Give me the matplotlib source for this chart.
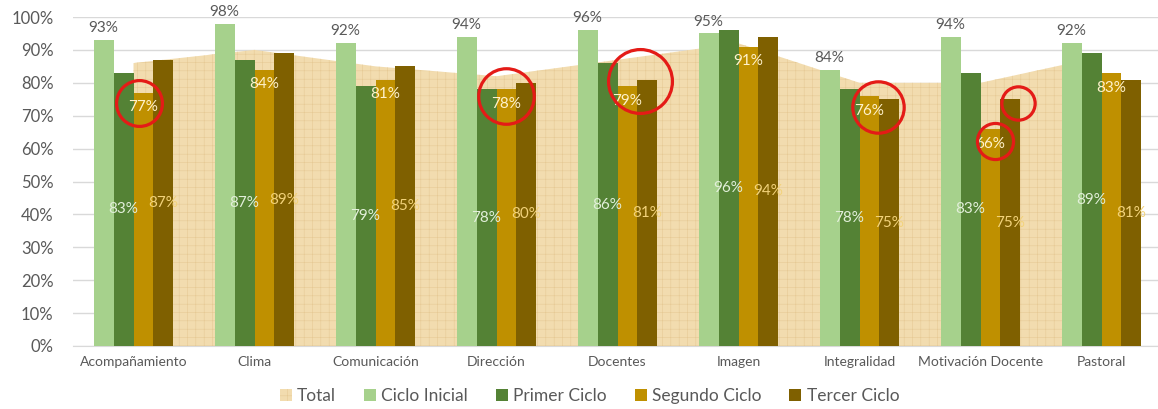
import numpy as np
import matplotlib.pyplot as plt
from matplotlib.patches import Patch

plt.rcParams['font.family'] = ['Lato', 'DejaVu Sans']
plt.rcParams['hatch.linewidth'] = 0.4

# Datos por dimensión
categorias = ['Acompañamiento', 'Clima', 'Comunicación', 'Dirección', 'Docentes',
              'Imagen', 'Integralidad', 'Motivación Docente', 'Pastoral']
total = [86, 90, 85, 82, 87, 92, 80, 80, 88]
ciclo_inicial = [93, 98, 92, 94, 96, 95, 84, 94, 92]
primer_ciclo = [83, 87, 79, 78, 86, 96, 78, 83, 89]
segundo_ciclo = [77, 84, 81, 78, 79, 91, 76, 66, 83]
tercer_ciclo = [87, 89, 85, 80, 81, 94, 75, 75, 81]

series = [('Ciclo Inicial', ciclo_inicial, '#A6D18C'),
          ('Primer Ciclo', primer_ciclo, '#548235'),
          ('Segundo Ciclo', segundo_ciclo, '#BF9000'),
          ('Tercer Ciclo', tercer_ciclo, '#7F6000')]

# Marcas rojas: (categoría, serie)
destacados = [(0, 2), (3, 2), (4, 2), (6, 2), (7, 2), (7, 3)]
desplaz = [(-0.04, -3), (0.0, -2), (0.1, 1.5), (0.07, -3.4), (0.04, -3.8), (0.06, -1.2)]
tamanos = [33, 40, 46, 37, 26, 24]

fig = plt.figure(figsize=(11.58, 4.09), dpi=100)
ax = fig.add_axes([73 / 1158, 63 / 409, 1085 / 1158, 329 / 409])

x = np.arange(len(categorias))
w = 0.165

# Área "Total" con textura tipo papiro
papiro = dict(facecolor='#F2DCAF', edgecolor='#E6CA95', hatch='++', linewidth=0)
ax.fill_between(x, 0, total, zorder=1, **papiro)

for i, (nombre, vals, color) in enumerate(series):
    pos = x + (i - 1.5) * w
    ax.bar(pos, vals, width=w, color=color, zorder=3)
    for p, v in zip(pos, vals):
        if i == 0:
            ax.text(p, v + 1.5, f'{v}%', ha='center', va='bottom',
                    fontsize=11, color='#595959', zorder=5)
        elif i == 1:
            ax.text(p, v / 2, f'{v}%', ha='center', va='center',
                    fontsize=11, color='#E2EFDA', zorder=5)
        elif i == 2:
            ax.text(p, v - 4.5, f'{v}%', ha='center', va='center',
                    fontsize=11, color='#FFF2CC', zorder=5)
        else:
            ax.text(p, v / 2, f'{v}%', ha='center', va='center',
                    fontsize=11, color='#F2D27A', zorder=5)

# Círculos rojos de resaltado
for (c, s), (dx, dy), ms in zip(destacados, desplaz, tamanos):
    px = c + (s - 1.5) * w + dx
    py = series[s][1][c] + dy
    ax.plot(px, py, 'o', ms=ms, mfc='none', mec='#E41B17', mew=2.3, zorder=6)

ax.set_xlim(-0.5, 8.5 - 4 / 121)
ax.set_ylim(0, 100)
ax.set_yticks(np.arange(0, 101, 10))
ax.set_yticklabels([f'{t}%' for t in range(0, 101, 10)])
ax.set_xticks(x)
ax.set_xticklabels(categorias)
ax.tick_params(axis='y', length=0, pad=14, labelsize=12, labelcolor='#595959')
ax.tick_params(axis='x', length=0, pad=7, labelsize=10, labelcolor='#595959')
ax.grid(axis='y', color='#D9D9D9', linewidth=1, zorder=0)
ax.set_axisbelow(True)
for s in ['top', 'right', 'left']:
    ax.spines[s].set_visible(False)
ax.spines['bottom'].set_color('#D9D9D9')

handles = [Patch(label='Total', **papiro)]
handles += [Patch(facecolor=c, label=n) for n, _, c in series]
fig.legend(handles=handles, loc='center', bbox_to_anchor=(0.509, 0.032), ncol=5,
           frameon=False, fontsize=12.5, labelcolor='#595959', handlelength=0.7,
           handleheight=0.7, handletextpad=0.3, columnspacing=1.6)

fig.savefig('out.png', dpi=100)
